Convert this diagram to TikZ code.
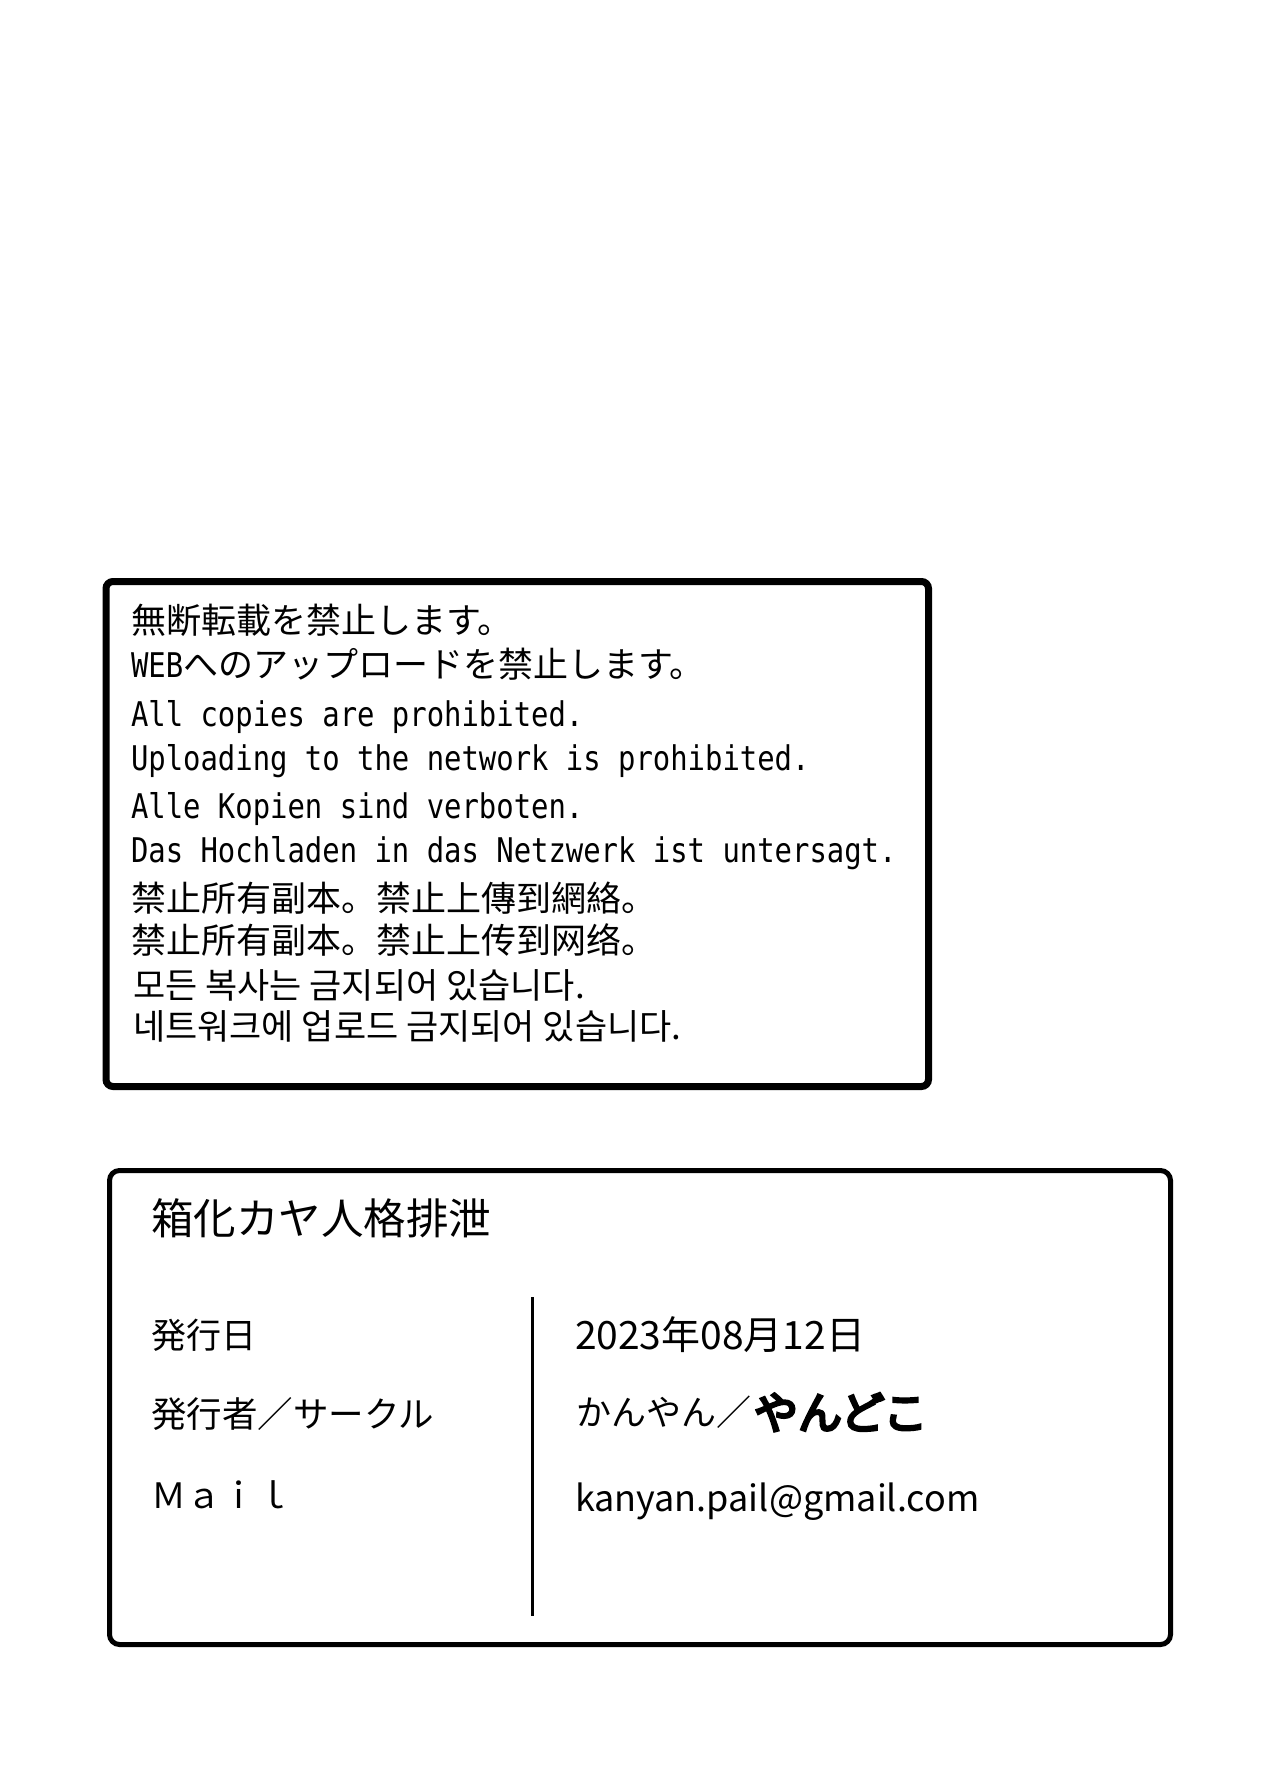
\documentclass[tikz,border=0pt]{standalone}
\usepackage{fontspec}
\newfontfamily\jpfont{Noto Sans CJK JP}
\newfontfamily\tcfont{Noto Sans CJK TC}
\newfontfamily\scfont{Noto Sans CJK SC}
\newfontfamily\krfont{Noto Sans CJK KR}
\newfontfamily\monofnt[FakeStretch=0.85]{DejaVu Sans Mono}
\newfontfamily\jpheavy[FakeBold=6]{Noto Sans CJK JP}
\newcommand\jpdot{{\jpfont 。}}
\begin{document}
\begin{tikzpicture}[x=1pt,y=-1pt,
  txt/.style={anchor=base west, inner sep=0pt, outer sep=0pt},
  jp/.style={txt, font=\jpfont\fontsize{35}{40}\selectfont},
  mono/.style={txt, font=\monofnt\fontsize{34}{40}\selectfont},
  tc/.style={txt, font=\tcfont\fontsize{35}{40}\selectfont},
  sc/.style={txt, font=\scfont\fontsize{35}{40}\selectfont},
  kr/.style={txt, font=\krfont\fontsize{35}{40}\selectfont},
  boxone/.style={draw=black, line width=7pt, rounded corners=7pt},
  boxtwo/.style={draw=black, line width=5pt, rounded corners=10pt},
  divider/.style={draw=black, line width=3pt}]
\useasboundingbox (0,0) rectangle (1280,1780);
\fill[white] (0,0) rectangle (1280,1780);

% box 1
\draw[boxone] (106,581.5) rectangle (928.5,1086.5);
\node[jp] (l1) at (131,633) {無断転載を禁止します。};
\node[jp] (l2) at (131,677) {{\monofnt\fontsize{34}{40}\selectfont WEB}へのアップロードを禁止します。};
\node[mono] (l3) at (131,726) {All copies are prohibited.};
\node[mono] (l4) at (131,770) {Uploading to the network is prohibited.};
\node[mono] (l5) at (131,818) {Alle Kopien sind verboten.};
\node[mono] (l6) at (131,862) {Das Hochladen in das Netzwerk ist untersagt.};
\node[tc] (l7) at (131,911) {禁止所有副本\jpdot 禁止上傳到網絡\jpdot};
\node[sc] (l8) at (131,953) {禁止所有副本。禁止上传到网络。};
\node[kr] (l9) at (133,998) {모든 복사는 금지되어 있습니다.};
\node[kr] (l10) at (133,1039) {네트워크에 업로드 금지되어 있습니다.};

% box 2
\draw[boxtwo] (109.5,1170.5) rectangle (1170.5,1644.5);
\coordinate (dtop) at (532,1297);
\coordinate (dbot) at (532,1616);
\draw[divider] (dtop) -- (dbot);
\node[txt, font=\jpfont\fontsize{42.5}{48}\selectfont] (title) at (151,1234) {箱化カヤ人格排泄};
\node[jp] (k1) at (151,1348) {発行日};
\node[txt, font=\jpfont\fontsize{35.5}{40}\selectfont] (k2) at (151,1427) {発行者／サークル};
\node[jp] (k3) at (151,1508) {Ｍａｉｌ};
\node[txt, font=\jpfont\fontsize{39}{44}\selectfont] (v1) at (575,1349) {2023年08月12日};
\node[jp] (v2) at (576,1425) {かんやん／};
\node[txt, font=\jpheavy\fontsize{44}{50}\selectfont] (v2b) at (754,1429) {やんどこ};
\node[txt, font=\jpfont\fontsize{36}{42}\selectfont] (v3) at (575,1511) {kanyan.pail@gmail.com};
\end{tikzpicture}
\end{document}
